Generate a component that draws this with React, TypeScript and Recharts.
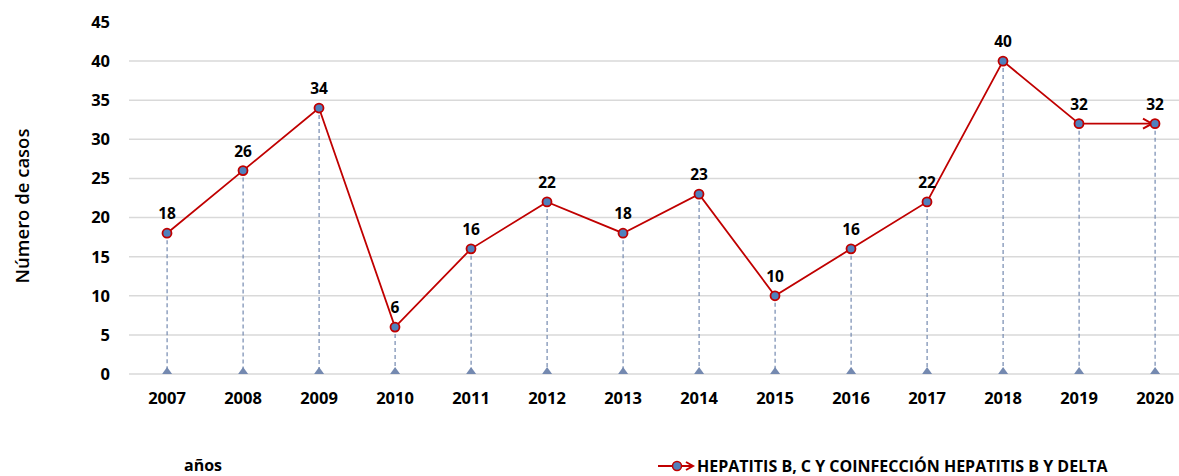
import React from 'react';
import { ComposedChart, Line, Bar, XAxis, YAxis, CartesianGrid, LabelList, Label } from 'recharts';

const years = ['2007', '2008', '2009', '2010', '2011', '2012', '2013', '2014', '2015', '2016', '2017', '2018', '2019', '2020'];
const casos = [18, 26, 34, 6, 16, 22, 18, 23, 10, 16, 22, 40, 32, 32];
const yTicks = [0, 5, 10, 15, 20, 25, 30, 35, 40, 45];
const gridValues = [0, 5, 10, 15, 20, 25, 30, 35, 40];
const seriesName = 'HEPATITIS B, C Y COINFECCIÓN HEPATITIS B Y DELTA';

const data = years.map((y, i) => ({ year: y, value: casos[i] }));

const FONT = '"Open Sans", Lato, sans-serif';
const RED = '#c00000';
const DOT = '#4f81bd';
const DROP = '#7489b0';

const DropLine = (props) => {
  const { x, y, width, height } = props;
  const cx = x + width / 2;
  const base = y + height;
  return (
    <g>
      <line x1={cx} y1={y} x2={cx} y2={base} stroke={DROP} strokeWidth={1.2} strokeDasharray="4 3" />
      <path d={`M${cx - 5},${base} L${cx + 5},${base} L${cx},${base - 7} Z`} fill={DROP} />
    </g>
  );
};

// marker with an arrowhead on the last point, like the excel line end
const Marker = (props) => {
  const { cx, cy, index } = props;
  const last = index === casos.length - 1;
  return (
    <g key={`dot-${index}`}>
      {last && (
        <path
          d={`M${cx - 12},${cy - 5} L${cx - 3},${cy} L${cx - 12},${cy + 5}`}
          fill="none"
          stroke={RED}
          strokeWidth={2}
        />
      )}
      <circle cx={cx} cy={cy} r={4.5} fill={DOT} stroke={RED} strokeWidth={1.8} />
    </g>
  );
};

const YTitle = (props) => {
  const { viewBox } = props;
  const cy = viewBox.y + viewBox.height / 2 + 8;
  const cx = 21;
  return (
    <text
      x={cx}
      y={cy}
      transform={`rotate(-90 ${cx} ${cy})`}
      textAnchor="middle"
      dominantBaseline="central"
      style={{ fontFamily: FONT, fontWeight: 600, fontSize: 18.5, fill: '#000' }}
    >
      Número de casos
    </text>
  );
};

export default function App() {
  return (
    <div style={{ position: 'absolute', left: 0, top: 0, width: 1179, height: 476, overflow: 'hidden', background: '#fff' }}>
      <ComposedChart
        width={1200}
        height={476}
        data={data}
        margin={{ top: 22, right: 7, left: 0, bottom: 72 }}
      >
        <CartesianGrid vertical={false} stroke="#d9d9d9" strokeWidth={1.5} horizontalValues={gridValues} />
        <XAxis
          dataKey="year"
          height={30}
          axisLine={false}
          tickLine={false}
          tickMargin={12}
          tick={{ fontFamily: FONT, fontWeight: 700, fontSize: 16.5, fill: '#000' }}
          interval={0}
        />
        <YAxis
          width={129}
          domain={[0, 45]}
          ticks={yTicks}
          axisLine={false}
          tickLine={false}
          tickMargin={13}
          tick={{ fontFamily: FONT, fontWeight: 700, fontSize: 16.5, fill: '#000' }}
        >
          <Label content={<YTitle />} />
        </YAxis>
        <Bar dataKey="value" isAnimationActive={false} shape={<DropLine />} legendType="none" />
        <Line
          dataKey="value"
          name={seriesName}
          stroke={RED}
          strokeWidth={1.8}
          type="linear"
          isAnimationActive={false}
          dot={<Marker />}
          activeDot={false}
        >
          <LabelList
            dataKey="value"
            position="top"
            offset={14}
            style={{ fontFamily: FONT, fontWeight: 700, fontSize: 15.5, fill: '#000' }}
          />
        </Line>
      </ComposedChart>
      <div style={{ position: 'absolute', left: 184, top: 454, fontFamily: FONT, fontWeight: 700, fontSize: 16, color: '#000' }}>
        años
      </div>
      <div
        style={{
          position: 'absolute',
          left: 656,
          top: 455,
          display: 'flex',
          alignItems: 'center',
          fontFamily: FONT,
          fontWeight: 700,
          fontSize: 16,
          color: '#000',
          whiteSpace: 'nowrap',
        }}
      >
        <svg width={40} height={14}>
          <line x1={2} y1={7} x2={36} y2={7} stroke={RED} strokeWidth={2} />
          <path d="M30,3 L37,7 L30,11" fill="none" stroke={RED} strokeWidth={2} />
          <circle cx={21} cy={7} r={4.5} fill={DOT} stroke={RED} strokeWidth={1.5} />
        </svg>
        <span style={{ marginLeft: 1 }}>{seriesName}</span>
      </div>
    </div>
  );
}
